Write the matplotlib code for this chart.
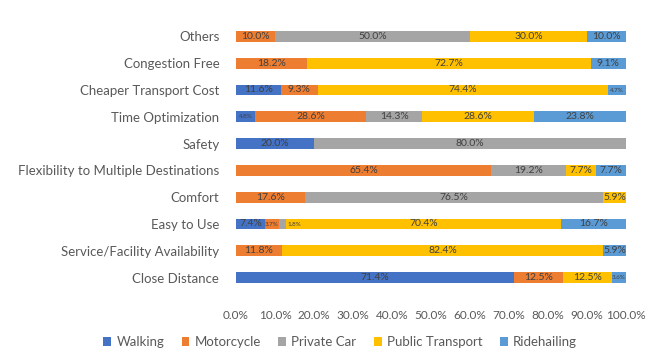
import matplotlib.pyplot as plt
import numpy as np

plt.rcParams['font.family'] = ['Lato', 'DejaVu Sans']

# reasons, listed bottom to top
reasons = ["Close Distance", "Service/Facility Availability", "Easy to Use", "Comfort",
           "Flexibility to Multiple Destinations", "Safety", "Time Optimization",
           "Cheaper Transport Cost", "Congestion Free", "Others"]

# share of respondents per mode (%), same order as reasons
walking = [71.4, 0.0, 7.4, 0.0, 0.0, 20.0, 4.8, 11.6, 0.0, 0.0]
motorcycle = [12.5, 11.8, 3.7, 17.6, 65.4, 0.0, 28.6, 9.3, 18.2, 10.0]
private_car = [0.0, 0.0, 1.8, 76.5, 19.2, 80.0, 14.3, 0.0, 0.0, 50.0]
public_transport = [12.5, 82.4, 70.4, 5.9, 7.7, 0.0, 28.6, 74.4, 72.7, 30.0]
ridehailing = [3.6, 5.9, 16.7, 0.0, 7.7, 0.0, 23.8, 4.7, 9.1, 10.0]

modes = ["Walking", "Motorcycle", "Private Car", "Public Transport", "Ridehailing"]
colors = ["#4472C4", "#ED7D31", "#A5A5A5", "#FFC000", "#5B9BD5"]
ticks = np.arange(0, 101, 10)

fig = plt.figure(figsize=(6.54, 3.54), dpi=100)
ax = fig.add_axes([236/654, 1-291/354, 390/654, 268/354])

y = np.arange(len(reasons))
left = np.zeros(len(reasons))
for name, vals, col in zip(modes, [walking, motorcycle, private_car, public_transport, ridehailing], colors):
	vals = np.array(vals)
	ax.barh(y, vals, left=left, height=0.4, color=col, label=name)
	for i in range(len(vals)):
		if vals[i] <= 0:
			continue
		if vals[i] < 2:
			# too thin to hold its label, put it just past the segment
			ax.text(left[i]+vals[i]+0.3, y[i], "%.1f%%" % vals[i], ha='left', va='center',
				fontsize=4.5, color='#404040')
		else:
			fs = 7.5
			if vals[i] < 5:
				fs = 4.5
			ax.text(left[i]+vals[i]/2, y[i], "%.1f%%" % vals[i], ha='center', va='center',
				fontsize=fs, color='#404040')
	left += vals

ax.set_xlim(0, 100)
ax.set_ylim(-0.5, len(reasons)-0.5)
ax.set_yticks(y)
ax.set_yticklabels(reasons, fontsize=9.5, color='#595959')
ax.set_xticks(ticks)
ax.set_xticklabels(["%.1f%%" % t for t in ticks], fontsize=8.5, color='#595959')
ax.tick_params(length=0, pad=12)
ax.tick_params(axis='x', pad=14)
for s in ax.spines.values():
	s.set_visible(False)

fig.legend(loc='center', bbox_to_anchor=(0.52, 1-342/354), ncol=5, frameon=False,
	fontsize=9.5, handlelength=0.6, handleheight=0.6, columnspacing=1.3, handletextpad=0.4,
	labelcolor='#595959')

fig.savefig("out.png", dpi=100)
